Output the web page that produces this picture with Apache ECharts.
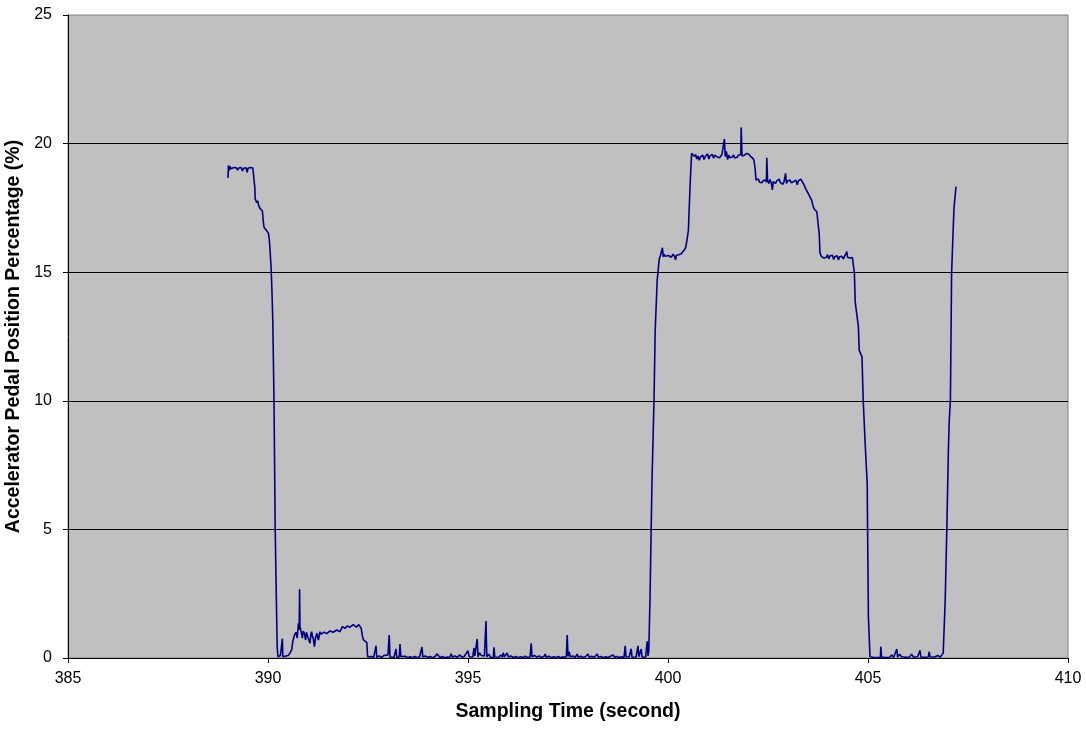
<!DOCTYPE html>
<html>
<head>
<meta charset="utf-8">
<title>Accelerator Pedal Position</title>
<script src="https://cdn.jsdelivr.net/npm/echarts@6/dist/echarts.min.js"></script>
<style>
  html, body { margin: 0; padding: 0; background: #ffffff; }
  #chart { width: 1086px; height: 730px; }
</style>
</head>
<body>
<div id="chart"></div>
<script>
// Accelerator pedal position (%) against sampling time (s), split by driving phase.
const xTicks = [385, 390, 395, 400, 405, 410];
const yTicks = [0, 5, 10, 15, 20, 25];

// First press, then the pedal is let go
const initialPress = [
  [389.00,18.66],[389.01,19.15],[389.03,18.95],[389.05,19.12],[389.07,19.02],[389.09,19.08],[389.12,19.00],
  [389.15,19.07],[389.18,19.03],[389.21,19.06],[389.24,18.97],[389.27,19.05],[389.30,19.01],[389.33,19.07],
  [389.36,18.94],[389.39,19.04],[389.42,19.00],[389.45,19.06],[389.48,18.88],[389.50,19.04],[389.53,19.02],
  [389.56,19.07],[389.59,19.01],[389.62,19.05],[389.65,18.98],[389.67,18.30],[389.68,17.85],[389.70,17.92],
  [389.72,17.70],[389.74,17.78],[389.77,17.58],[389.80,17.48],[389.83,17.42],[389.86,17.38],[389.88,17.00],
  [389.90,16.75],[389.93,16.68],[389.96,16.63],[389.99,16.58],[390.01,16.52],[390.03,16.30],[390.05,15.90],
  [390.08,15.10],[390.10,14.20],[390.12,13.10],[390.15,10.00],[390.18,5.00],[390.21,2.20],[390.23,0.40],
  [390.25,0.05]
];

// Light touch on the pedal
const lightTouch = [
  [390.27,0.12],[390.29,0.02],[390.31,0.10],[390.33,0.04],[390.35,0.08],[390.36,0.75],[390.37,0.05],
  [390.39,0.10],[390.42,0.02],[390.45,0.08],[390.48,0.04],[390.51,0.10],[390.55,0.20],[390.59,0.31],
  [390.62,0.65],[390.66,0.89],[390.70,1.00],[390.73,0.77],[390.76,1.35],[390.78,1.10],[390.79,2.67],
  [390.80,1.20],[390.82,1.09],[390.86,0.77],[390.88,1.05],[390.91,0.96],[390.94,0.70],[390.96,1.00],
  [390.98,0.89],[391.01,0.75],[391.05,0.57],[391.07,0.90],[391.09,1.02],[391.11,0.85],[391.13,0.77],
  [391.16,0.44],[391.19,0.80],[391.22,0.96],[391.26,0.70],[391.30,1.02],[391.33,0.93],[391.36,0.89],
  [391.40,1.00],[391.43,1.06],[391.47,0.95],[391.51,0.98],[391.55,1.05],[391.59,1.09],[391.63,1.00],
  [391.68,0.98],[391.72,1.09],[391.76,1.05],[391.80,1.02],[391.83,1.12],[391.86,1.22],[391.90,1.18],
  [391.93,1.15],[391.97,1.24],[392.01,1.28],[392.05,1.20],[392.09,1.22],[392.13,1.30],[392.18,1.32],
  [392.21,1.20],[392.24,1.24],[392.27,1.30],[392.30,1.37],[392.33,1.15],[392.36,0.85],[392.39,0.70],
  [392.43,0.66],[392.47,0.60],[392.49,0.05]
];

// Pedal released: sensor noise around zero
const idleNoise = [
  [392.52,0.02],[392.58,0.06],[392.64,0.01],[392.68,0.04],[392.70,0.47],[392.72,0.03],[392.78,0.08],
  [392.84,0.02],[392.90,0.10],[392.95,0.03],[393.00,0.12],[393.02,0.05],[393.03,0.89],[393.05,0.04],
  [393.10,0.08],[393.15,0.02],[393.18,0.05],[393.20,0.35],[393.22,0.03],[393.26,0.10],[393.28,0.04],
  [393.30,0.54],[393.32,0.06],[393.37,0.02],[393.43,0.07],[393.49,0.01],[393.55,0.05],[393.61,0.02],
  [393.67,0.06],[393.73,0.01],[393.79,0.05],[393.83,0.02],[393.85,0.43],[393.87,0.04],[393.93,0.08],
  [393.99,0.02],[394.05,0.06],[394.11,0.01],[394.17,0.05],[394.21,0.03],[394.23,0.16],[394.26,0.10],
  [394.30,0.02],[394.36,0.06],[394.42,0.01],[394.48,0.04],[394.54,0.02],[394.58,0.16],[394.61,0.03],
  [394.67,0.08],[394.73,0.02],[394.79,0.12],[394.85,0.03],[394.91,0.07],[394.96,0.02],[395.00,0.28],
  [395.03,0.05],[395.08,0.12],[395.12,0.04],[395.15,0.39],[395.17,0.08],[395.20,0.10],[395.23,0.74],
  [395.25,0.05],[395.29,0.20],[395.33,0.10],[395.37,0.04],[395.41,0.08],[395.43,0.03],[395.45,1.44],
  [395.47,0.05],[395.52,0.15],[395.56,0.03],[395.61,0.08],[395.63,0.02],[395.65,0.42],[395.67,0.04],
  [395.72,0.10],[395.77,0.03],[395.82,0.12],[395.86,0.03],[395.88,0.20],[395.91,0.05],[395.95,0.10],
  [395.98,0.20],[396.01,0.04],[396.07,0.08],[396.13,0.02],[396.19,0.06],[396.25,0.01],[396.31,0.05],
  [396.37,0.02],[396.43,0.07],[396.49,0.02],[396.55,0.04],[396.58,0.57],[396.60,0.05],[396.66,0.10],
  [396.72,0.03],[396.78,0.08],[396.84,0.02],[396.90,0.06],[396.93,0.15],[396.96,0.03],[397.02,0.07],
  [397.08,0.01],[397.14,0.05],[397.20,0.02],[397.26,0.06],[397.32,0.01],[397.38,0.05],[397.44,0.02],
  [397.46,0.10],[397.48,0.89],[397.50,0.06],[397.53,0.25],[397.56,0.04],[397.62,0.08],[397.68,0.02],
  [397.73,0.15],[397.76,0.03],[397.82,0.07],[397.88,0.02],[397.94,0.06],[398.00,0.15],[398.03,0.03],
  [398.09,0.07],[398.15,0.02],[398.20,0.06],[398.23,0.15],[398.26,0.03],[398.32,0.06],[398.38,0.01],
  [398.44,0.05],[398.50,0.02],[398.56,0.07],[398.60,0.02],[398.63,0.12],[398.66,0.03],[398.72,0.06],
  [398.78,0.02],[398.84,0.05],[398.90,0.02],[398.93,0.47],[398.95,0.05],[398.99,0.12],[399.03,0.04],
  [399.06,0.10],[399.08,0.36],[399.10,0.04],[399.15,0.10],[399.20,0.03],[399.23,0.08],[399.25,0.47],
  [399.27,0.05],[399.30,0.10],[399.33,0.35],[399.35,0.04],[399.40,0.08],[399.44,0.03],[399.46,0.10],
  [399.48,0.65],[399.50,0.08],[399.52,0.30]
];

// Second press: three stepped levels
const secondPress = [
  [399.55,2.30],[399.60,6.90],[399.65,10.00],[399.68,12.75],[399.73,14.70],[399.78,15.50],[399.82,15.70],
  [399.86,15.95],[399.88,15.60],[399.90,15.70],[399.93,15.62],[399.96,15.66],[399.98,15.58],[400.01,15.65],
  [400.03,15.60],[400.06,15.67],[400.08,15.58],[400.10,15.63],[400.13,15.70],[400.16,15.62],[400.19,15.48],
  [400.21,15.66],[400.24,15.60],[400.27,15.68],[400.30,15.65],[400.33,15.72],[400.36,15.78],[400.40,15.85],
  [400.44,15.95],[400.48,16.30],[400.51,16.64],[400.55,18.30],[400.59,19.62],[400.63,19.66],[400.66,19.50],
  [400.69,19.58],[400.72,19.40],[400.75,19.52],[400.78,19.35],[400.81,19.48],[400.84,19.42],[400.87,19.55],
  [400.90,19.38],[400.93,19.50],[400.96,19.45],[400.99,19.60],[401.02,19.40],[401.05,19.52],[401.08,19.46],
  [401.11,19.58],[401.14,19.43],[401.17,19.55],[401.20,19.62],[401.23,19.48],[401.26,19.55],[401.29,19.45],
  [401.32,19.50],[401.35,19.58],[401.38,19.52],[401.41,20.18],[401.43,19.50],[401.46,19.70],[401.49,19.38],
  [401.52,19.55],[401.55,19.45],[401.58,19.52],[401.61,19.48],[401.64,19.56],[401.67,19.44],[401.70,19.50],
  [401.73,19.47],[401.76,19.55],[401.79,19.50],[401.82,19.58],[401.83,20.63],[401.85,19.52],[401.88,19.45],
  [401.91,19.55],[401.94,19.50],[401.97,19.62],[402.00,19.55],[402.03,19.58],[402.06,19.50],[402.09,19.56],
  [402.12,19.43],[402.15,19.35],[402.18,19.00],[402.20,18.58],[402.23,18.52],[402.26,18.62],[402.29,18.50],
  [402.32,18.55],[402.35,18.48],[402.38,18.56],[402.41,18.52],[402.44,18.58],[402.46,18.50],[402.47,19.45],
  [402.49,18.55],[402.52,18.45],[402.55,18.60],[402.58,18.48],[402.61,18.20],[402.63,18.52],[402.66,18.58],
  [402.69,18.45],[402.72,18.55],[402.75,18.50],[402.78,18.62],[402.81,18.48],[402.84,18.55],[402.87,18.42],
  [402.90,18.52],[402.93,18.50],[402.94,18.84],[402.96,18.45],[402.99,18.55],[403.02,18.50],[403.05,18.58],
  [403.08,18.48],[403.11,18.55],[403.14,18.52],[403.17,18.45],[403.20,18.58],[403.23,18.40],[403.26,18.55],
  [403.29,18.50],[403.32,18.62],[403.35,18.55],[403.40,18.40],[403.44,18.25],[403.47,18.20],[403.51,18.05],
  [403.55,18.00],[403.59,17.80],[403.63,17.55],[403.66,17.45],[403.68,17.42],[403.72,17.35],[403.76,17.29],
  [403.78,16.50],[403.80,15.74],[403.84,15.60],[403.87,15.66],[403.90,15.55],[403.93,15.62],[403.96,15.58],
  [403.99,15.68],[404.02,15.52],[404.05,15.63],[404.08,15.57],[404.11,15.66],[404.14,15.50],[404.17,15.60],
  [404.20,15.55],[404.23,15.64],[404.26,15.48],[404.29,15.60],[404.32,15.56],[404.35,15.62],[404.38,15.52],
  [404.41,15.60],[404.44,15.57],[404.47,15.80],[404.49,15.58],[404.52,15.62],[404.55,15.55],[404.58,15.60],
  [404.61,15.57]
];

// Release and short idle
const release = [
  [404.63,15.54],[404.66,14.96],[404.68,13.85],[404.72,13.83],[404.76,12.88],[404.78,11.97],[404.83,11.91],
  [404.85,11.71],[404.88,10.03],[404.93,8.30],[404.98,6.79],[404.99,4.98],[405.01,1.60],[405.05,0.05],
  [405.09,0.12],[405.13,0.03],[405.18,0.10],[405.23,0.02],[405.28,0.08],[405.31,0.03],[405.32,0.44],
  [405.34,0.04],[405.39,0.10],[405.44,0.02],[405.49,0.08],[405.54,0.03],[405.59,0.12],[405.64,0.02],
  [405.69,0.08],[405.72,0.35],[405.74,0.04],[405.79,0.15],[405.84,0.05],[405.89,0.12],[405.94,0.03],
  [405.99,0.10],[406.04,0.04],[406.09,0.15],[406.14,0.03],[406.19,0.10],[406.24,0.05],[406.28,0.08],
  [406.30,0.30],[406.32,0.04],[406.37,0.10],[406.42,0.03],[406.47,0.08],[406.51,0.04],[406.53,0.25],
  [406.55,0.05],[406.60,0.10],[406.65,0.03],[406.70,0.08],[406.75,0.10],[406.80,0.02],[406.85,0.05]
];

// Third press
const thirdPress = [
  [406.88,0.19],[406.93,2.25],[406.97,4.98],[407.01,8.09],[407.03,9.19],[407.05,9.19],[407.06,10.03],
  [407.09,14.96],[407.12,16.25],[407.15,17.50],[407.20,18.33]
];

const pedalTrace = [].concat(initialPress, lightTouch, idleNoise, secondPress, release, thirdPress);

const chart = echarts.init(document.getElementById('chart'), null, { renderer: 'canvas' });
const baseFont = 'Liberation Sans, Arial, Helvetica, sans-serif';

chart.setOption({
  animation: false,
  backgroundColor: '#ffffff',
  textStyle: { fontFamily: baseFont },
  grid: {
    left: 68, right: 18, top: 15, bottom: 72,
    containLabel: false,
    outerBoundsMode: 'none',
    show: true,
    backgroundColor: '#C0C0C0',
    borderColor: '#808080',
    borderWidth: 1
  },
  xAxis: {
    type: 'value',
    min: xTicks[0],
    max: xTicks[xTicks.length - 1],
    interval: xTicks[1] - xTicks[0],
    name: 'Sampling Time (second)',
    nameLocation: 'middle',
    nameGap: 44,
    nameTextStyle: { color: '#000', fontSize: 19.5, fontWeight: 'bold', fontFamily: baseFont },
    axisLine: { show: true, onZero: false, lineStyle: { color: '#000', width: 1 } },
    axisTick: { show: true, inside: false, length: 5, lineStyle: { color: '#000' } },
    axisLabel: { color: '#000', fontSize: 16, margin: 13, fontFamily: baseFont },
    splitLine: { show: false }
  },
  yAxis: {
    type: 'value',
    min: yTicks[0],
    max: yTicks[yTicks.length - 1],
    interval: yTicks[1] - yTicks[0],
    name: 'Accelerator Pedal Position Percentage (%)',
    nameLocation: 'middle',
    nameGap: 41,
    nameTextStyle: { color: '#000', fontSize: 19.5, fontWeight: 'bold', fontFamily: baseFont },
    axisLine: { show: true, lineStyle: { color: '#000', width: 1 } },
    axisTick: { show: true, inside: false, length: 5, lineStyle: { color: '#000' } },
    axisLabel: { color: '#000', fontSize: 16, margin: 16, fontFamily: baseFont },
    splitLine: {
      show: true,
      showMinLine: false,
      showMaxLine: false,
      lineStyle: { color: '#000', width: 1 }
    }
  },
  series: [{
    type: 'line',
    data: pedalTrace,
    showSymbol: false,
    symbol: 'none',
    smooth: false,
    lineStyle: { color: '#000080', width: 1.6 },
    z: 3
  }]
});
</script>
</body>
</html>
